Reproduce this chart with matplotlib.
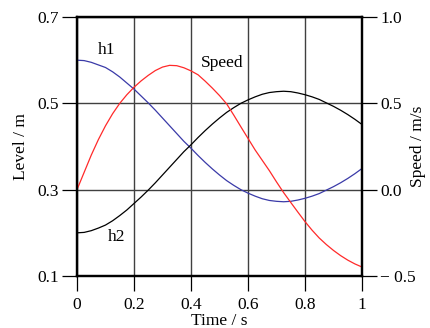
import matplotlib
matplotlib.use("Agg")
import matplotlib.pyplot as plt

# values (every 0.025 s)
time = [0.000, 0.025, 0.050, 0.075, 0.100, 0.125, 0.150, 0.175, 0.200, 0.225,
        0.250, 0.275, 0.300, 0.325, 0.350, 0.375, 0.400, 0.425, 0.450, 0.475,
        0.500, 0.525, 0.550, 0.575, 0.600, 0.625, 0.650, 0.675, 0.700, 0.725,
        0.750, 0.775, 0.800, 0.825, 0.850, 0.875, 0.900, 0.925, 0.950, 0.975,
        1.000]
h1 = [0.600, 0.599, 0.595, 0.589, 0.583, 0.573, 0.561, 0.547, 0.533, 0.517,
      0.501, 0.484, 0.466, 0.448, 0.430, 0.412, 0.396, 0.379, 0.363, 0.348,
      0.334, 0.321, 0.310, 0.300, 0.292, 0.285, 0.279, 0.275, 0.273, 0.272,
      0.273, 0.276, 0.280, 0.285, 0.291, 0.299, 0.307, 0.316, 0.326, 0.337,
      0.349]
h2 = [0.200, 0.201, 0.205, 0.211, 0.218, 0.228, 0.240, 0.253, 0.268, 0.283,
      0.299, 0.316, 0.334, 0.352, 0.370, 0.388, 0.404, 0.421, 0.437, 0.452,
      0.466, 0.479, 0.490, 0.500, 0.508, 0.515, 0.521, 0.525, 0.527, 0.528,
      0.527, 0.524, 0.520, 0.515, 0.509, 0.501, 0.493, 0.484, 0.474, 0.463,
      0.451]
speed = [0.000, 0.100, 0.200, 0.290, 0.370, 0.440, 0.500, 0.550, 0.593, 0.630,
         0.662, 0.690, 0.710, 0.720, 0.718, 0.706, 0.688, 0.665, 0.628, 0.588,
         0.545, 0.497, 0.432, 0.364, 0.297, 0.230, 0.170, 0.110, 0.045, -0.017,
         -0.074, -0.130, -0.185, -0.235, -0.280, -0.318, -0.352, -0.382, -0.408, -0.430,
         -0.448]

x_ticks = [0, 0.2, 0.4, 0.6, 0.8, 1]
x_labels = ["0", "0.2", "0.4", "0.6", "0.8", "1"]
level_ticks = [0.1, 0.3, 0.5, 0.7]
level_labels = ["0.1", "0.3", "0.5", "0.7"]
speed_ticks = [-0.5, 0.0, 0.5, 1.0]
speed_labels = ["\u2212 0.5", "0.0", "0.5", "1.0"]

plt.rcParams["font.family"] = ["Liberation Serif", "DejaVu Serif"]
fs = 12.5

fig = plt.figure(figsize=(4.31, 3.28), dpi=100)
ax = fig.add_axes([77 / 431, 1 - 276 / 328, 285 / 431, 259 / 328])
ax2 = ax.twinx()

ax.plot(time, h1, color="#3a3aa8", lw=0.9)
ax.plot(time, h2, color="black", lw=0.9)
ax2.plot(time, speed, color="#ff2a2a", lw=0.9)

ax.set_xlim(0, 1)
ax.set_ylim(0.1, 0.7)
ax2.set_ylim(-0.5, 1.0)

ax.set_xticks(x_ticks)
ax.set_xticklabels(x_labels)
ax.set_yticks(level_ticks)
ax.set_yticklabels(level_labels)
ax2.set_yticks(speed_ticks)
ax2.set_yticklabels(speed_labels)

ax.grid(True, color="#404040", lw=1.0)
ax.set_axisbelow(True)

for a in (ax, ax2):
    for s in a.spines.values():
        s.set_linewidth(1.6)
    a.tick_params(direction="out", length=11, width=0.9, labelsize=fs, pad=2)
ax.tick_params(axis="x", pad=4)

ax.set_xlabel("Time / s", fontsize=fs, labelpad=0)
ax.set_ylabel("Level / m", fontsize=fs)
ax2.set_ylabel("Speed / m/s", fontsize=fs)
ax.yaxis.set_label_coords(-0.17, 0.5)
ax2.yaxis.set_label_coords(1.17, 0.5)

ax.text(0.105, 0.624, "h1", fontsize=fs, ha="center", va="center")
ax.text(0.14, 0.19, "h2", fontsize=fs, ha="center", va="center")
ax.text(0.51, 0.593, "Speed", fontsize=fs, ha="center", va="center")

fig.savefig("out.png", dpi=100)
